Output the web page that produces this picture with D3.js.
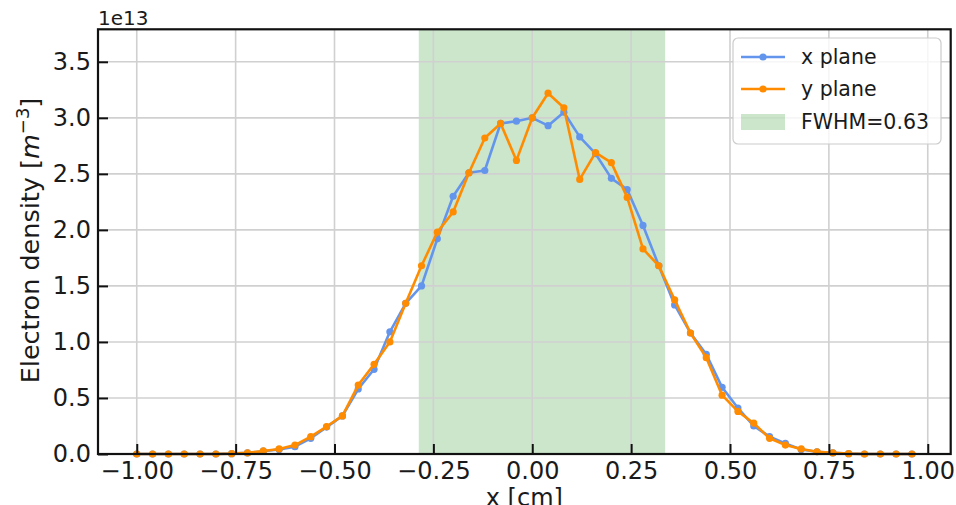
<!DOCTYPE html>
<html>
<head>
<meta charset="utf-8">
<script src="https://cdn.jsdelivr.net/npm/d3@7"></script>
<style>
    body { margin: 0; background: #fff; }
    text { font-family: "DejaVu Sans", sans-serif; fill: #1a1a1a; }
</style>
</head>
<body>
<div id="chart"></div>
<script>
// positions along the beam, cm
const xPos = [-1.00,-0.96,-0.92,-0.88,-0.84,-0.80,-0.76,-0.72,-0.68,-0.64,-0.60,-0.56,-0.52,-0.48,-0.44,-0.40,
    -0.36,-0.32,-0.28,-0.24,-0.20,-0.16,-0.12,-0.08,-0.04,0.00,0.04,0.08,0.12,0.16,0.20,0.24,0.28,0.32,
    0.36,0.40,0.44,0.48,0.52,0.56,0.60,0.64,0.68,0.72,0.76,0.80,0.84,0.88,0.92,0.96];
// electron density, units of 1e13 m^-3
const xPlane = [0,0,0,0,0,0,0.003,0.01,0.025,0.04,0.065,0.14,0.24,0.34,0.58,0.756,
    1.09,1.345,1.50,1.92,2.30,2.51,2.53,2.95,2.97,3.00,2.93,3.05,2.83,2.68,2.46,2.36,2.04,1.68,
    1.33,1.08,0.89,0.595,0.41,0.25,0.155,0.095,0.04,0.02,0.01,0.003,0,0,0,0];
const yPlane = [0,0,0,0,0,0,0.003,0.01,0.027,0.045,0.08,0.155,0.245,0.34,0.615,0.80,
    1.00,1.345,1.68,1.98,2.16,2.51,2.82,2.95,2.62,3.00,3.22,3.09,2.45,2.69,2.60,2.29,1.83,1.68,
    1.375,1.08,0.86,0.525,0.38,0.275,0.14,0.08,0.045,0.02,0.01,0.003,0,0,0,0];
const fwhmSpan = [-0.287, 0.336];
const xTicks = [-1.00,-0.75,-0.50,-0.25,0.00,0.25,0.50,0.75,1.00];
const yTicks = [0.0,0.5,1.0,1.5,2.0,2.5,3.0,3.5];

const width = 956, height = 505;
const pLeft = 98, pRight = 950.7, pTop = 29.3, pBottom = 454;

let svg = d3.select("#chart").append("svg")
    .attr("width", width)
    .attr("height", height);

let x = d3.scaleLinear().domain([-1.098, 1.058]).range([pLeft, pRight]);
let y = d3.scaleLinear().domain([0, 3.79]).range([pBottom, pTop]);

//FWHM band
svg.append("rect")
    .attr("x", x(fwhmSpan[0]))
    .attr("y", pTop)
    .attr("width", x(fwhmSpan[1]) - x(fwhmSpan[0]))
    .attr("height", pBottom - pTop)
    .attr("fill", "green")
    .attr("fill-opacity", 0.2);

//grid
svg.append("g").selectAll("line").data(xTicks).join("line")
    .attr("x1", d => x(d)).attr("x2", d => x(d))
    .attr("y1", pTop).attr("y2", pBottom)
    .attr("stroke", "#d0d0d0").attr("stroke-width", 1.6);
svg.append("g").selectAll("line").data(yTicks).join("line")
    .attr("x1", pLeft).attr("x2", pRight)
    .attr("y1", d => y(d)).attr("y2", d => y(d))
    .attr("stroke", "#d0d0d0").attr("stroke-width", 1.6);

//series
const series = [
    {name: "x plane", values: xPlane, color: "#6495ED"},
    {name: "y plane", values: yPlane, color: "#FF8C00"}
];
series.forEach(s => {
    let pts = xPos.map((v, i) => [v, s.values[i]]);
    svg.append("path")
        .attr("d", d3.line().x(d => x(d[0])).y(d => y(d[1]))(pts))
        .attr("fill", "none")
        .attr("stroke", s.color)
        .attr("stroke-width", 2.6)
        .attr("stroke-linejoin", "round");
    svg.append("g").selectAll("circle").data(pts).join("circle")
        .attr("cx", d => x(d[0]))
        .attr("cy", d => y(d[1]))
        .attr("r", 3.6)
        .attr("fill", s.color);
});

//axes, ticks inward
let xAxis = svg.append("g").attr("transform", "translate(0," + pBottom + ")")
    .call(d3.axisBottom(x).tickValues(xTicks).tickFormat(d => d3.format(".2f")(d).replace("-", "\u2212"))
        .tickSizeInner(-10).tickSizeOuter(0).tickPadding(8));
let yAxis = svg.append("g").attr("transform", "translate(" + pLeft + ",0)")
    .call(d3.axisLeft(y).tickValues(yTicks).tickFormat(d3.format(".1f"))
        .tickSizeInner(-10).tickSizeOuter(0).tickPadding(7));
[xAxis, yAxis].forEach(a => {
    a.select(".domain").remove();
    a.selectAll(".tick line").attr("stroke", "#111").attr("stroke-width", 2);
    a.selectAll(".tick text").style("font-size", "24px").style("font-family", "DejaVu Sans").attr("fill", "#1a1a1a");
});

//frame
svg.append("rect")
    .attr("x", pLeft).attr("y", pTop)
    .attr("width", pRight - pLeft).attr("height", pBottom - pTop)
    .attr("fill", "none").attr("stroke", "#111").attr("stroke-width", 2.2);

//labels
svg.append("text")
    .attr("x", pLeft).attr("y", 25)
    .style("font-size", "20px")
    .text("1e13");
svg.append("text")
    .attr("x", (pLeft + pRight) / 2).attr("y", 506)
    .attr("text-anchor", "middle")
    .style("font-size", "24px")
    .text("x [cm]");
let yl = svg.append("text")
    .attr("transform", "translate(38.5,240.5) rotate(-90)")
    .attr("text-anchor", "middle")
    .style("font-size", "25.5px");
yl.append("tspan").text("Electron density [");
yl.append("tspan").style("font-style", "italic").text("m");
yl.append("tspan").attr("dy", -10).style("font-size", "18px").text("\u22123");
yl.append("tspan").attr("dy", 10).text("]");

//legend
let lg = svg.append("g").attr("transform", "translate(733,38)");
lg.append("rect")
    .attr("width", 208).attr("height", 106).attr("rx", 5)
    .attr("fill", "white").attr("fill-opacity", 0.8)
    .attr("stroke", "#ccc").attr("stroke-width", 1.2);
series.forEach((s, i) => {
    let cy = 19 + i * 32;
    lg.append("line").attr("x1", 8).attr("x2", 52).attr("y1", cy).attr("y2", cy)
        .attr("stroke", s.color).attr("stroke-width", 2.6);
    lg.append("circle").attr("cx", 30).attr("cy", cy).attr("r", 3.6).attr("fill", s.color);
    lg.append("text").attr("x", 68).attr("y", cy + 7).style("font-size", "20.5px").text(s.name);
});
lg.append("rect").attr("x", 8).attr("y", 76).attr("width", 44).attr("height", 16)
    .attr("fill", "green").attr("fill-opacity", 0.2);
lg.append("text").attr("x", 68).attr("y", 91).style("font-size", "20.5px").text("FWHM=0.63");
</script>
</body>
</html>
